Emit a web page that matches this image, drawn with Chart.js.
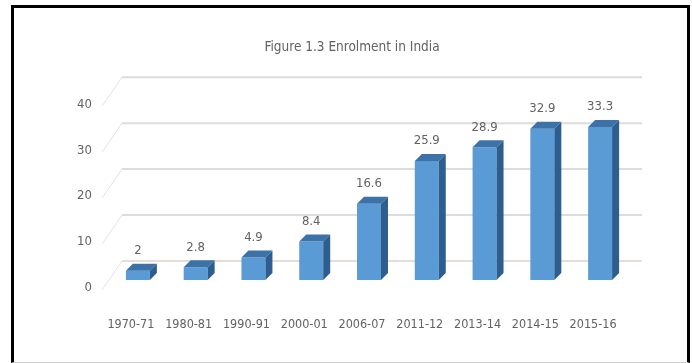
<!DOCTYPE html>
<html>
<head>
<meta charset="utf-8">
<title>Figure 1.3 Enrolment in India</title>
<script src="https://cdn.jsdelivr.net/npm/chart.js@4"></script>
<style>
    html, body { margin: 0; padding: 0; background: #fff; }
    #wrap { position: relative; width: 692px; height: 363px; overflow: hidden; }
    #frame {
        position: absolute; left: 11px; top: 5px; width: 679px; height: 358px;
        box-sizing: border-box;
        border: 3px solid #000; border-bottom: 1px solid #cfcfcf;
    }
    #enrolmentChart { position: absolute; left: 0; top: 0; }
</style>
</head>
<body>
<div id="wrap">
    <div id="frame"></div>
    <canvas id="enrolmentChart" width="692" height="363"></canvas>
</div>
<script>
const years = ['1970-71', '1980-81', '1990-91', '2000-01', '2006-07', '2011-12', '2013-14', '2014-15', '2015-16'];
const enrolment = [2, 2.8, 4.9, 8.4, 16.6, 25.9, 28.9, 32.9, 33.3];
const yTicks = [0, 10, 20, 30, 40];

const FONT = "'DejaVu Sans Condensed', 'Liberation Sans', sans-serif";
const TEXT_COLOR = '#626262';

// depth of the 3D look (px)
const BAR_DEPTH = 7;
const WALL_DX = 13, WALL_DY = 19;   // bar plane -> back wall
const FRONT_DX = -7, FRONT_DY = 10; // bar plane -> front edge of side wall

// Back wall grid + left wall diagonals, drawn behind the bars
const wallPlugin = {
    id: 'wall3d',
    beforeDatasetsDraw(chart) {
        const { ctx, chartArea, scales } = chart;
        ctx.save();
        yTicks.forEach(v => {
            const y = scales.y.getPixelForValue(v);
            const bx = chartArea.left + WALL_DX;
            const by = y - WALL_DY;
            // diagonal on the side wall
            ctx.strokeStyle = '#e2e2e2';
            ctx.lineWidth = 1;
            ctx.beginPath();
            ctx.moveTo(chartArea.left + FRONT_DX, y + FRONT_DY);
            ctx.lineTo(bx, by);
            ctx.stroke();
            // back wall line
            ctx.strokeStyle = v === 0 ? '#e8dcd6' : '#dcdcdc';
            ctx.lineWidth = 2;
            ctx.beginPath();
            ctx.moveTo(bx, by);
            ctx.lineTo(chartArea.right + WALL_DX, by);
            ctx.stroke();
        });
        ctx.restore();
    },
    // top and side faces + value labels
    afterDatasetsDraw(chart) {
        const { ctx } = chart;
        const meta = chart.getDatasetMeta(0);
        ctx.save();
        meta.data.forEach((bar, i) => {
            const { x, y, base, width } = bar.getProps(['x', 'y', 'base', 'width'], true);
            const l = x - width / 2, r = x + width / 2, d = BAR_DEPTH;

            ctx.fillStyle = '#3d72a9';
            ctx.beginPath();
            ctx.moveTo(l, y);
            ctx.lineTo(r, y);
            ctx.lineTo(r + d, y - d);
            ctx.lineTo(l + d, y - d);
            ctx.closePath();
            ctx.fill();

            ctx.fillStyle = '#2e5e8f';
            ctx.beginPath();
            ctx.moveTo(r, y);
            ctx.lineTo(r + d, y - d);
            ctx.lineTo(r + d, base - d);
            ctx.lineTo(r, base);
            ctx.closePath();
            ctx.fill();

            ctx.fillStyle = TEXT_COLOR;
            ctx.font = '13px ' + FONT;
            ctx.textAlign = 'center';
            ctx.textBaseline = 'middle';
            ctx.fillText(String(enrolment[i]), x, y - 20);
        });
        ctx.restore();
    }
};

const ctx = document.getElementById('enrolmentChart').getContext('2d');
new Chart(ctx, {
    type: 'bar',
    data: {
        labels: years,
        datasets: [{
            label: 'Enrolment',
            data: enrolment,
            backgroundColor: '#5b9bd5',
            borderWidth: 0,
            barPercentage: 0.415,
            categoryPercentage: 1
        }]
    },
    options: {
        responsive: false,
        animation: false,
        devicePixelRatio: 1,
        layout: { padding: { left: 75, right: 63, top: 0, bottom: 0 } },
        plugins: {
            legend: { display: false },
            tooltip: { enabled: false },
            title: {
                display: true,
                text: 'Figure 1.3 Enrolment in India',
                color: TEXT_COLOR,
                font: { family: FONT, size: 13.5, weight: 'normal' },
                padding: { top: 39, bottom: 41 }
            }
        },
        scales: {
            x: {
                grid: { display: false, drawTicks: false },
                border: { display: false },
                ticks: {
                    color: TEXT_COLOR,
                    font: { family: FONT, size: 12.5 },
                    padding: 37,
                    labelOffset: -7,
                    maxRotation: 0,
                    autoSkip: false
                },
                afterFit(scale) { scale.height = 83; }
            },
            y: {
                min: 0,
                max: 40,
                grid: { display: false, drawTicks: false },
                border: { display: false },
                ticks: {
                    stepSize: 10,
                    color: TEXT_COLOR,
                    font: { family: FONT, size: 13 },
                    padding: 17,
                    labelOffset: 8
                },
                afterBuildTicks(scale) { scale.ticks = yTicks.map(v => ({ value: v })); },
                afterFit(scale) { scale.width = 34; }
            }
        }
    },
    plugins: [wallPlugin]
});
</script>
</body>
</html>
